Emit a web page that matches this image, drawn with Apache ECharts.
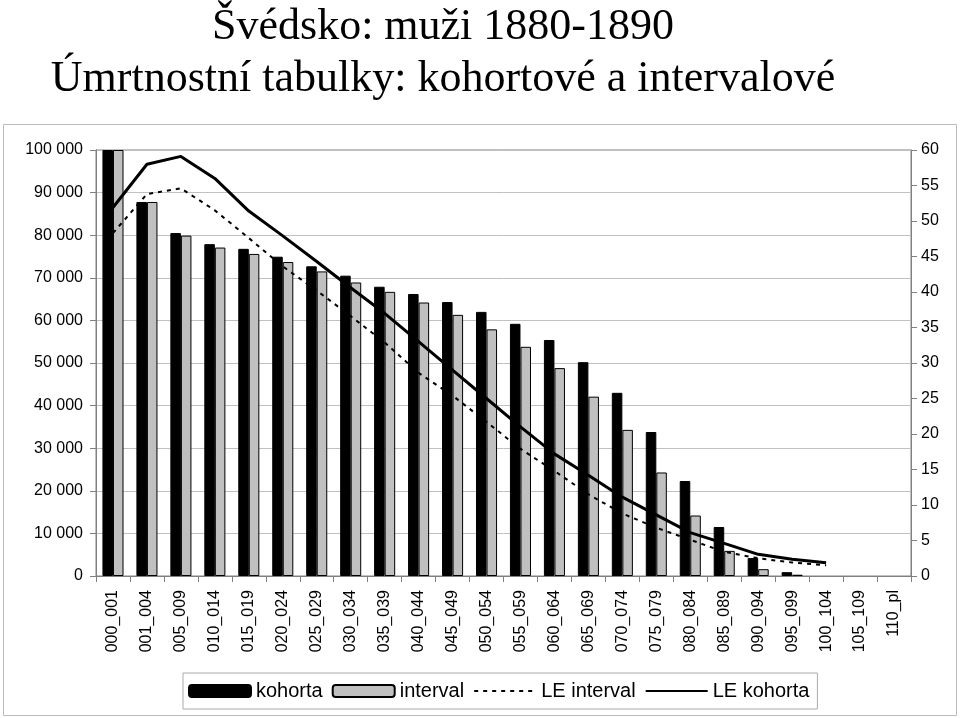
<!DOCTYPE html>
<html>
<head>
<meta charset="utf-8">
<script src="https://cdn.jsdelivr.net/npm/echarts@6/dist/echarts.min.js"></script>
<style>html,body{margin:0;padding:0;background:#fff}#c{width:960px;height:718px}</style>
</head>
<body>
<div id="c"></div>
<script>
const categories = ['000_001','001_004','005_009','010_014','015_019','020_024','025_029','030_034','035_039','040_044','045_049','050_054','055_059','060_064','065_069','070_074','075_079','080_084','085_089','090_094','095_099','100_104','105_109','110_pl'];
const kohorta = [100000, 87800, 80500, 77900, 76800, 74950, 72700, 70500, 67900, 66200, 64300, 62000, 59200, 55400, 50200, 43000, 33800, 22300, 11500, 4200, 900, null, null, null];
const interval = [100000, 87800, 79900, 77100, 75600, 73700, 71500, 68900, 66700, 64200, 61300, 57900, 53800, 48800, 42100, 34300, 24300, 14200, 5900, 1600, 300, null, null, null];
const leInterval = [48.3, 53.8, 54.6, 51.5, 47.6, 43.6, 40.2, 36.6, 32.9, 28.6, 25.4, 21.7, 17.9, 14.8, 11.5, 8.8, 6.8, 5.1, 3.4, 2.5, 1.9, 1.5, null, null];
const leKohorta = [51.9, 58.0, 59.1, 56.0, 51.4, 47.9, 44.3, 40.6, 37.0, 33.0, 29.0, 25.0, 21.0, 17.2, 14.2, 11.1, 8.6, 6.1, 4.6, 3.05, 2.35, 1.87, null, null];
const titleLine1 = 'Švédsko: muži 1880-1890';
const titleLine2 = 'Úmrtnostní tabulky: kohortové a intervalové';

const chart = echarts.init(document.getElementById('c'), null, {renderer: 'canvas'});
const axisFont = {fontFamily: 'Liberation Sans', fontSize: 16, color: '#000'};
const option = {
  animation: false,
  backgroundColor: '#fff',
  graphic: [
    {type: 'rect', shape: {x: 3.5, y: 124.5, width: 953, height: 591}, style: {fill: 'none', stroke: '#bbbbbb', lineWidth: 1}, silent: true, z: -10},
    {type: 'text', x: 443, y: 27, style: {text: titleLine1, textAlign: 'center', textVerticalAlign: 'middle', fontFamily: 'Liberation Serif', fontSize: 44, fill: '#000'}},
    {type: 'text', x: 443, y: 79, style: {text: titleLine2, textAlign: 'center', textVerticalAlign: 'middle', fontFamily: 'Liberation Serif', fontSize: 44, fill: '#000'}}
  ],
  grid: {left: 96, right: 49, top: 150, bottom: 142, show: true, borderColor: '#808080', borderWidth: 1, backgroundColor: 'transparent'},
  legend: {
    left: 183, top: 673, padding: [8, 8, 8, 5], borderColor: '#aaaaaa', borderWidth: 1,
    itemWidth: 62, itemHeight: 12, itemGap: 9,
    textStyle: {fontFamily: 'Liberation Sans', fontSize: 20, color: '#000', padding: [0, 0, 0, 0]},
    data: [
      {name: 'kohorta'},
      {name: 'interval'},
      {name: 'LE interval', itemStyle: {opacity: 0}},
      {name: 'LE kohorta', itemStyle: {opacity: 0}}
    ]
  },
  xAxis: {
    type: 'category', data: categories, boundaryGap: true,
    axisLine: {lineStyle: {color: '#808080'}},
    axisTick: {show: true, length: 6, lineStyle: {color: '#808080'}},
    axisLabel: Object.assign({rotate: 90, interval: 0, margin: 14}, axisFont)
  },
  yAxis: [
    {type: 'value', min: 0, max: 100000, interval: 10000, position: 'left',
     axisLine: {show: true, lineStyle: {color: '#808080'}},
     axisTick: {show: true, length: 6, lineStyle: {color: '#808080'}},
     splitLine: {show: true, lineStyle: {color: '#c0c0c0', width: 1}},
     axisLabel: Object.assign({margin: 13, formatter: v => String(v).replace(/\B(?=(\d{3})+(?!\d))/g, ' ')}, axisFont)},
    {type: 'value', min: 0, max: 60, interval: 5, position: 'right',
     axisLine: {show: true, lineStyle: {color: '#808080'}},
     axisTick: {show: true, length: 6, lineStyle: {color: '#808080'}},
     splitLine: {show: false},
     axisLabel: Object.assign({margin: 10}, axisFont)}
  ],
  series: [
    {name: 'kohorta', type: 'bar', data: kohorta, barGap: '0%', barCategoryGap: '38%',
     itemStyle: {color: '#000000', borderColor: '#000000', borderWidth: 1}},
    {name: 'interval', type: 'bar', data: interval,
     itemStyle: {color: '#c0c0c0', borderColor: '#000000', borderWidth: 1}},
    {name: 'LE interval', type: 'line', yAxisIndex: 1, data: leInterval, symbol: 'none', connectNulls: false,
     lineStyle: {color: '#000', width: 2, type: [4, 5]}, itemStyle: {color: '#000'}},
    {name: 'LE kohorta', type: 'line', yAxisIndex: 1, data: leKohorta, symbol: 'none', connectNulls: false,
     lineStyle: {color: '#000', width: 3}, itemStyle: {color: '#000'}}
  ]
};
chart.setOption(option);
</script>
</body>
</html>
